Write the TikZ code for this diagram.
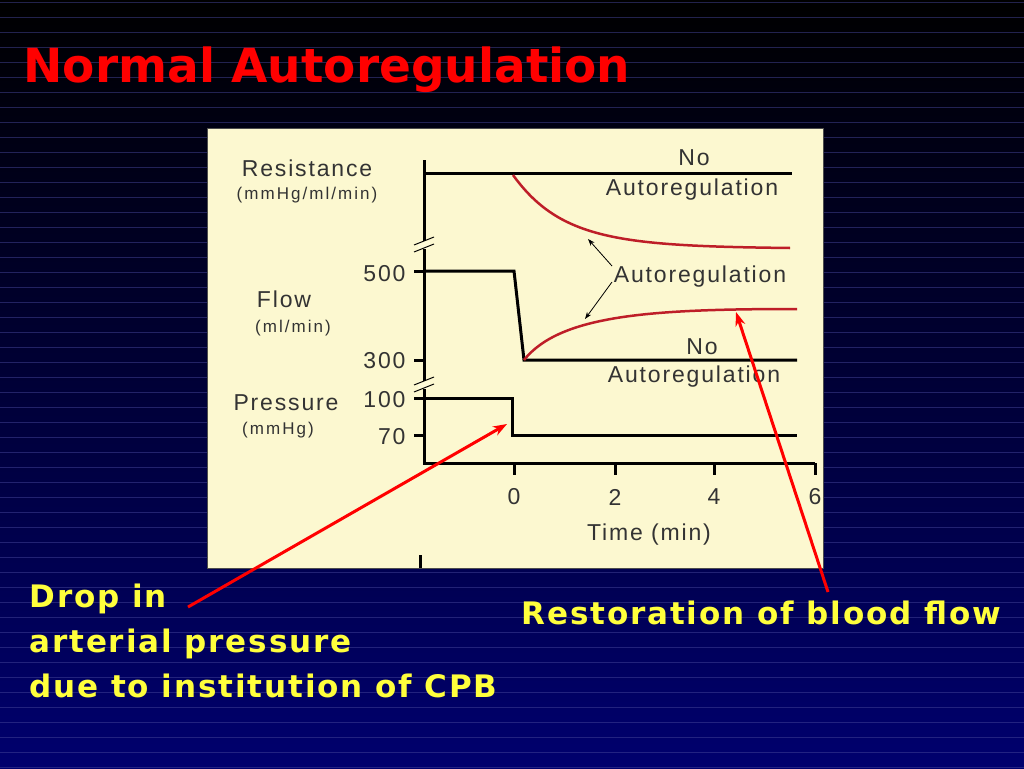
\documentclass[tikz,border=0pt]{standalone}
\usepackage{fontspec}
\usetikzlibrary{arrows.meta}
\setmainfont{Liberation Sans}
\newfontfamily\slide{DejaVu Sans}
\newfontfamily\slidey[LetterSpace=6]{DejaVu Sans}
\newfontfamily\spaced[LetterSpace=8]{Liberation Sans}
\newfontfamily\spacedb[LetterSpace=12]{Liberation Sans}
\begin{document}
\begin{tikzpicture}[x=1pt,y=-1pt,
  ax/.style={line width=3pt,black},
  crv/.style={line width=2.5pt,color={rgb,255:red,190;green,30;blue,40}},
  lbl/.style={font=\spaced\fontsize{23}{26}\selectfont,text=black!80},
  sml/.style={font=\spacedb\fontsize{17}{20}\selectfont,text=black!80},
  ylw/.style={font=\slidey\bfseries\fontsize{31}{45}\selectfont,text={rgb,255:red,255;green,255;blue,60},align=left},
  redar/.style={line width=3pt,red,-{Stealth[length=14pt,width=10pt]}},
  blk/.style={line width=0.8pt,black,-{Stealth[length=7pt,width=5pt]}}]
\useasboundingbox (0,0) rectangle (1024,768);
\shade[top color=black,bottom color={rgb,255:red,0;green,0;blue,110}] (0,0) rectangle (1024,768);
\foreach \y in {2,17,...,768} \draw[white!45!blue!60!black,line width=0.6pt,opacity=0.5] (0,\y) -- (1024,\y);
\node[font=\slide\bfseries\fontsize{47}{50}\selectfont,text=red,anchor=west] (title) at (20,70) {Normal Autoregulation};
\fill[draw=black!70,line width=1pt,fill={rgb,255:red,252;green,248;blue,208}] (207,128) rectangle (823,568);
% axes
\draw[ax] (424,160) -- (424,463) -- (815,463);
\foreach \x in {514,615,714,815} \draw[ax] (\x,463) -- (\x,475);
\draw[ax] (420,555) -- (420,568);
\foreach \y in {271,360,398,435} \draw[ax] (414,\y) -- (424,\y);
\foreach \y in {245,385} {\fill[white!2!yellow!15] (418,\y-4) rectangle (430,\y+4);
 \draw[line width=1pt] (414,\y) -- (434,\y-8); \draw[line width=1pt] (414,\y+7) -- (434,\y-1);}
\foreach \x/\t in {514/0,615/2,714/4,815/6} \node[lbl] (t\t) at (\x,497) {\t};
\node[lbl] (tl) at (649,535) {Time (min)};
% labels
\node[lbl] (res) at (307,168) {Resistance};
\node[sml] (resu) at (307,195) {(mmHg/ml/min)};
\node[lbl] (flow) at (284,299) {Flow};
\node[sml] (flowu) at (293,328) {(ml/min)};
\node[lbl] (pr) at (286,403) {Pressure};
\node[sml] (pru) at (278,430) {(mmHg)};
\node[lbl,anchor=east] (y500) at (409,274) {500};
\node[lbl,anchor=east] (y300) at (409,361) {300};
\node[lbl,anchor=east] (y100) at (409,400) {100};
\node[lbl,anchor=east] (y70) at (409,437) {70};
% curves
\draw[ax] (424,173) -- (792,173);
\draw[crv] (513,175) .. controls (560,240) and (620,246) .. (790,248);
\draw[ax] (424,271) -- (514,271) -- (524,360) -- (797,360);
\draw[crv] (524,360) .. controls (560,315) and (650,309) .. (797,309);
\draw[ax] (424,398) -- (512,398) -- (512,435) -- (797,435);
\node[lbl] (no1) at (694,158) {No};
\node[lbl] (au1) at (692,190) {Autoregulation};
\node[lbl] (au2) at (700,277) {Autoregulation};
\node[lbl] (no2) at (702,347) {No};
\node[lbl] (au3) at (694,377) {Autoregulation};
\coordinate (c1) at (588,239); \coordinate (c2) at (585,319);
\draw[blk] (612,266) -- (c1);
\draw[blk] (612,282) -- (c2);
% yellow text
\node[ylw,anchor=north west] (drop) at (26,580) {Drop in\\arterial pressure\\due to institution of CPB};
\node[ylw,anchor=west] (rest) at (518,613) {Restoration of blood flow};
\coordinate (p1) at (188,607); \coordinate (p2) at (507,424);
\coordinate (q1) at (828,592); \coordinate (q2) at (736,312);
\draw[redar] (p1) -- (p2);
\draw[redar] (q1) -- (q2);
\end{tikzpicture}
\end{document}
